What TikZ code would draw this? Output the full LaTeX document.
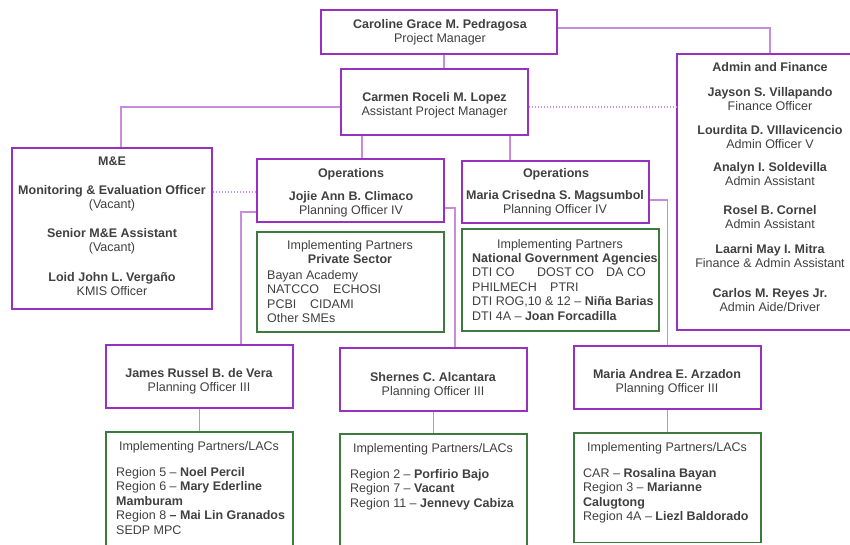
\documentclass[tikz,border=0pt]{standalone}
\usepackage{fontspec}
\setmainfont{Liberation Sans}
\usetikzlibrary{fit}
\definecolor{boxpurple}{RGB}{152,48,192}
\definecolor{linepurple}{RGB}{200,140,222}
\definecolor{boxgreen}{RGB}{62,122,62}
\definecolor{textgray}{RGB}{64,64,64}
\begin{document}
\begin{tikzpicture}[x=1pt,y=-1pt,
  pbox/.style={draw=boxpurple, line width=1.8pt, inner sep=0pt},
  gbox/.style={draw=boxgreen, line width=1.5pt, inner sep=0pt},
  conn/.style={draw=linepurple, line width=1.3pt},
  dconn/.style={conn, dash pattern=on 1.5pt off 1.5pt},
  txt/.style={text=textgray, font=\fontsize{12.5}{14.4}\selectfont, inner sep=0pt, align=center, anchor=base},
  ltxt/.style={txt, align=left, anchor=base west}]
\useasboundingbox (0,0) rectangle (850,544);
\fill[white] (0,0) rectangle (850,544);
\clip (0,0) rectangle (850,544);

% boxes
\node[pbox, fit={(321,10) (557,54)}] (pm) {};
\node[pbox, fit={(341,69) (528,135)}] (apm) {};
\node[pbox, fit={(677,54) (852,330)}] (adm) {};
\node[pbox, fit={(12,148) (212,309)}] (me) {};
\node[pbox, fit={(257,159) (444,222)}] (ops1) {};
\node[pbox, fit={(462,161) (649,223)}] (ops2) {};
\node[gbox, fit={(257,232) (444,332)}] (ip1) {};
\node[gbox, fit={(462,229) (659,331)}] (ip2) {};
\node[pbox, fit={(106,345) (293,408)}] (jam) {};
\node[pbox, fit={(340,348) (527,411)}] (she) {};
\node[pbox, fit={(574,346) (761,409)}] (arz) {};
\node[gbox, fit={(106,432) (293,560)}] (jip) {};
\node[gbox, fit={(340,434) (527,560)}] (sip) {};
\node[gbox, fit={(574,433) (761,542.5)}] (aip) {};

% connectors
\draw[conn] ([xshift=5pt]pm.south) -- ([xshift=5pt]pm.south |- apm.north);
\draw[conn] ([yshift=4pt]pm.east) -| ([xshift=5.5pt]adm.north);
\draw[conn] ([yshift=-5pt]apm.west) -| ([xshift=9pt]me.north);
\draw[dconn] ([yshift=-5pt]apm.east) -- ([yshift=-5pt]apm.east -| adm.west);
\draw[conn] ([xshift=11.5pt]ops1.north |- apm.south) -- ([xshift=11.5pt]ops1.north);
\draw[conn] ([xshift=-45.5pt]ops2.north |- apm.south) -- ([xshift=-45.5pt]ops2.north);
\draw[dconn] ([yshift=-1.5pt]ops1.west -| me.east) -- ([yshift=-1.5pt]ops1.west);
\draw[conn] ([yshift=-21.5pt]ops1.west) -| ([xshift=41.5pt]jam.north);
\draw[conn] ([yshift=-17.5pt]ops1.east) -| ([xshift=21.5pt]she.north);
\draw[conn] ([yshift=-8pt]ops2.east) -| (arz.north);
\draw[conn] (jam.south) -- (jip.north);
\draw[conn] (she.south) -- (sip.north);
\draw[conn] (arz.south) -- (aip.north);

% texts (anchor = baseline of last line)
\node[txt] (pmt) at (440,42.9) {\textbf{Caroline Grace M. Pedragosa}\\Project Manager};
\node[txt] (apmt) at (434.5,115.9) {\textbf{Carmen Roceli M. Lopez}\\Assistant Project Manager};

\node[txt] (met1) at (112,165.5) {\textbf{M\&E}};
\node[txt] (met2) at (112,208.9) {\textbf{Monitoring \& Evaluation Officer}\\(Vacant)};
\node[txt] (met3) at (112,251.9) {\textbf{Senior M\&E Assistant}\\(Vacant)};
\node[txt] (met4) at (112,295.9) {\textbf{Loid John L. Vergaño}\\KMIS Officer};

\node[txt] (o1t1) at (351,177.5) {\textbf{Operations}};
\node[txt] (o1t2) at (351,214.9) {\textbf{Jojie Ann B. Climaco}\\Planning Officer IV};
\node[txt] (i1t1) at (350,263.9) {Implementing Partners\\\textbf{Private Sector}};
\node[ltxt] (i1t2) at (267,322.7) {Bayan Academy\\\makebox[66pt][l]{NATCCO}ECHOSI\\\makebox[43pt][l]{PCBI}CIDAMI\\Other SMEs};

\node[txt] (o2t1) at (556,177.5) {\textbf{Operations}};
\node[txt] (o2t2) at (555,213.9) {\textbf{Maria Crisedna S. Magsumbol}\\Planning Officer IV};
\node[txt] (i2t1) at (560,248.5) {Implementing Partners};
\node[ltxt] (i2t2) at (472,320.1) {\textbf{National Government Agencies}\\\makebox[65pt][l]{DTI CO}\makebox[69pt][l]{DOST CO}DA CO\\\makebox[78pt][l]{PHILMECH}PTRI\\DTI ROG,10 \& 12 – \textbf{Niña Barias}\\DTI 4A – \textbf{Joan Forcadilla}};

\node[txt] (adt1) at (770,71.5) {\textbf{Admin and Finance}};
\node[txt] (adt2) at (770,110.9) {\textbf{Jayson S. Villapando}\\Finance Officer};
\node[txt] (adt3) at (770,148.9) {\textbf{Lourdita D. VIllavicencio}\\Admin Officer V};
\node[txt] (adt4) at (770,185.9) {\textbf{Analyn I. Soldevilla}\\Admin Assistant};
\node[txt] (adt5) at (770,228.9) {\textbf{Rosel B. Cornel}\\Admin Assistant};
\node[txt] (adt6) at (770,267.9) {\textbf{Laarni May I. Mitra}\\Finance \& Admin Assistant};
\node[txt] (adt7) at (770,311.9) {\textbf{Carlos M. Reyes Jr.}\\Admin Aide/Driver};

\node[txt] (jamt) at (199,391.9) {\textbf{James Russel B. de Vera}\\Planning Officer III};
\node[txt] (jipt1) at (199,450.5) {Implementing Partners/LACs};
\node[ltxt] (jipt2) at (116,534.1) {Region 5 – \textbf{Noel Percil}\\Region 6 – \textbf{Mary Ederline}\\\textbf{Mamburam}\\Region 8 \textbf{– Mai Lin Granados}\\SEDP MPC};

\node[txt] (shet) at (433,395.9) {\textbf{Shernes C. Alcantara}\\Planning Officer III};
\node[txt] (sipt1) at (433,452.5) {Implementing Partners/LACs};
\node[ltxt] (sipt2) at (350,507.3) {Region 2 – \textbf{Porfirio Bajo}\\Region 7 – \textbf{Vacant}\\Region 11 – \textbf{Jennevy Cabiza}};

\node[txt] (arzt) at (667,392.9) {\textbf{Maria Andrea E. Arzadon}\\Planning Officer III};
\node[txt] (aipt1) at (667,451.5) {Implementing Partners/LACs};
\node[ltxt] (aipt2) at (583,520.7) {CAR – \textbf{Rosalina Bayan}\\Region 3 – \textbf{Marianne}\\\textbf{Calugtong}\\Region 4A – \textbf{Liezl Baldorado}};
\end{tikzpicture}
\end{document}
